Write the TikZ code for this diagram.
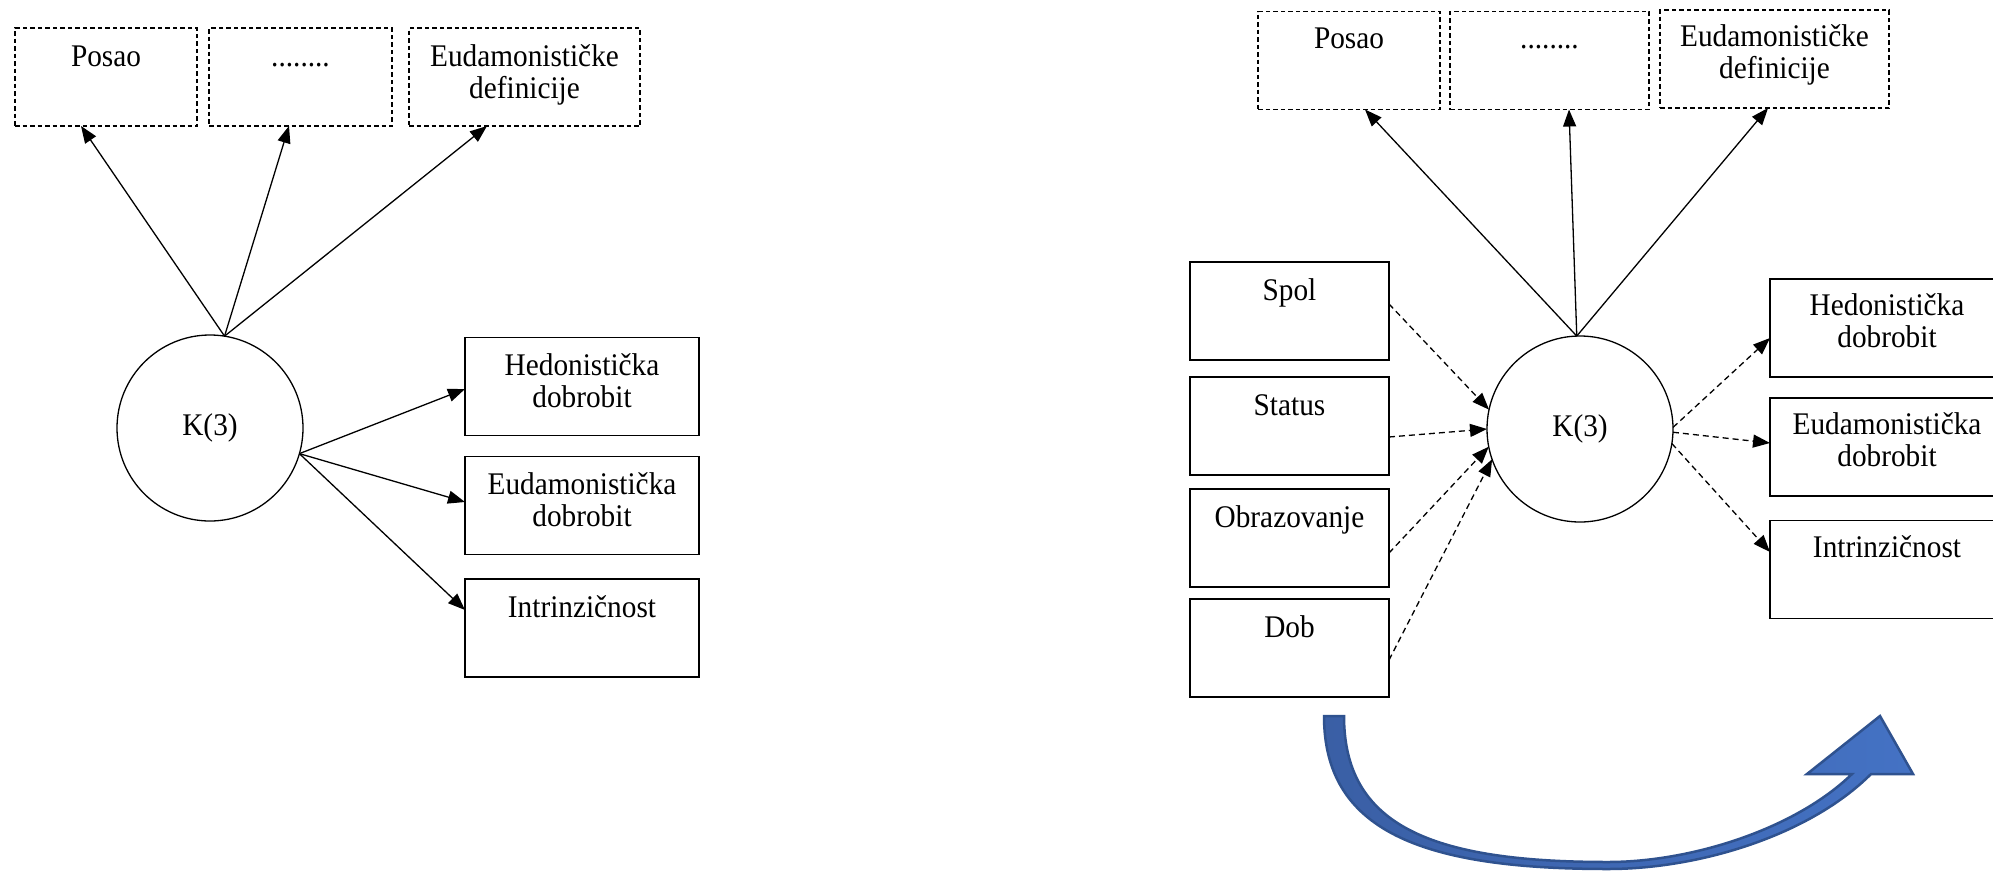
\documentclass[tikz,border=0pt]{standalone}
\usepackage{fontspec}
\setmainfont{Liberation Serif}[FakeStretch=0.93]
\usetikzlibrary{arrows.meta,calc}
\definecolor{arrowL}{HTML}{3A5FA5}
\definecolor{arrowR}{HTML}{4472C4}
\definecolor{arrowE}{HTML}{2F528F}
\begin{document}
\begin{tikzpicture}[x=1pt,y=-1pt,
  box/.style={draw, line width=1.3pt, minimum width=#1, minimum height=98pt, inner sep=0pt, outer sep=0pt},
  dbox/.style={box=#1, dash pattern=on 4.5pt off 3pt},
  boxtext/.style={anchor=north, align=center, inner sep=0pt, font=\fontsize{31.5}{32}\selectfont},
  circ/.style={draw, circle, line width=1.3pt, minimum size=186pt, inner sep=0pt, outer sep=0pt, font=\fontsize{31.5}{32}\selectfont},
  arr/.style={line width=1.3pt, -{Triangle[length=17pt,width=13pt]}},
  darr/.style={arr, dash pattern=on 6pt off 4pt},
  bigarrow/.style={draw=arrowE, line width=2.5pt, line join=miter, left color=arrowL, right color=arrowR}
]
\path[use as bounding box, fill=white] (0,0) rectangle (1993,870);
\clip (0,0) rectangle (1993,870);

% ---------- left panel ----------
\node[dbox=182pt] (Lposao) at (106,77) {};
\node[dbox=183pt] (Ldots) at (300.5,77) {};
\node[dbox=231pt] (Leud) at (524.5,77) {};
\node[boxtext] (tLposao) at ($(Lposao.north)+(0,15.6)$) {\strut Posao};
\node[boxtext] (tLdots) at ($(Ldots.north)+(0,15.6)$) {\strut ........};
\node[boxtext] (tLeud) at ($(Leud.north)+(0,15.6)$) {\strut Eudamonističke\\definicije};

\node[circ] (LK) at (210,428) {K(3)};

\node[box=234pt] (Lhed) at (582,386.5) {};
\node[box=234pt] (Leud2) at (582,505.5) {};
\node[box=234pt] (Lintr) at (582,628) {};
\node[boxtext] (tLhed) at ($(Lhed.north)+(0,15.6)$) {\strut Hedonistička\\dobrobit};
\node[boxtext] (tLeud2) at ($(Leud2.north)+(0,15.6)$) {\strut Eudamonistička\\dobrobit};
\node[boxtext] (tLintr) at ($(Lintr.north)+(0,15.6)$) {\strut Intrinzičnost};

\draw[arr] (LK.81) -- ($(Lposao.south)+(-25,0)$);
\draw[arr] (LK.81) -- ($(Ldots.south)+(-11.5,0)$);
\draw[arr] (LK.81) -- ($(Leud.south)+(-37.5,0)$);
\draw[arr] (LK.-16) -- ($(Lhed.west)+(0,2.5)$);
\draw[arr] (LK.-16) -- ($(Leud2.west)+(0,-3.5)$);
\draw[arr] (LK.-16) -- ($(Lintr.west)+(0,-18)$);

% ---------- right panel ----------
\node[dbox=182pt] (Rposao) at (1349,60.5) {};
\node[dbox=199pt] (Rdots) at (1549.5,60.5) {};
\node[dbox=229pt] (Reud) at (1774.5,59) {};
\node[boxtext] (tRposao) at ($(Rposao.north)+(0,14)$) {\strut Posao};
\node[boxtext] (tRdots) at ($(Rdots.north)+(0,14)$) {\strut ........};
\node[boxtext] (tReud) at ($(Reud.north)+(0,14)$) {\strut Eudamonističke\\definicije};

\node[circ] (RK) at (1580,429) {K(3)};

\node[box=199pt] (Rspol) at (1289.5,311) {};
\node[box=199pt] (Rstatus) at (1289.5,426) {};
\node[box=199pt] (Robr) at (1289.5,538) {};
\node[box=199pt] (Rdob) at (1289.5,648) {};
\node[boxtext] (tRspol) at ($(Rspol.north)+(0,15.6)$) {\strut Spol};
\node[boxtext] (tRstatus) at ($(Rstatus.north)+(0,15.6)$) {\strut Status};
\node[boxtext] (tRobr) at ($(Robr.north)+(0,15.6)$) {\strut Obrazovanje};
\node[boxtext] (tRdob) at ($(Rdob.north)+(0,15.6)$) {\strut Dob};

\node[box=234pt] (Rhed) at (1887,328) {};
\node[box=234pt] (Reud2) at (1887,447) {};
\node[box=234pt] (Rintr) at (1887,569.5) {};
\node[boxtext] (tRhed) at ($(Rhed.north)+(0,14)$) {\strut Hedonistička\\dobrobit};
\node[boxtext] (tReud2) at ($(Reud2.north)+(0,14)$) {\strut Eudamonistička\\dobrobit};
\node[boxtext] (tRintr) at ($(Rintr.north)+(0,14)$) {\strut Intrinzičnost};

\draw[arr] (RK.92) -- ($(Rposao.south)+(16,0)$);
\draw[arr] (RK.92) -- ($(Rdots.south)+(19.5,0)$);
\draw[arr] (RK.92) -- ($(Reud.south)+(-6.5,0)$);

\draw[darr] ($(Rspol.east)+(0,-7)$) -- (RK.168);
\draw[darr] ($(Rstatus.east)+(0,11)$) -- (RK.180);
\draw[darr] ($(Robr.east)+(0,15)$) -- (RK.191);
\draw[darr] ($(Rdob.east)+(0,12)$) -- (RK.199);

\draw[darr] (RK.1) -- ($(Rhed.west)+(0,10)$);
\draw[darr] (RK.-2) -- ($(Reud2.west)+(0,-4)$);
\draw[darr] (RK.-9) -- ($(Rintr.west)+(0,-17.5)$);

% ---------- curved block arrow ----------
\path[bigarrow] (1324,716) .. controls (1324,830) and (1420,869) .. (1608,869)
  .. controls (1700,869) and (1810,835) .. (1871,774)
  -- (1913,774) -- (1880,716) -- (1807,774) -- (1852,774)
  .. controls (1794,830) and (1690,862) .. (1608,862)
  .. controls (1430,862) and (1344,825) .. (1344,716) -- cycle;
\end{tikzpicture}
\end{document}
